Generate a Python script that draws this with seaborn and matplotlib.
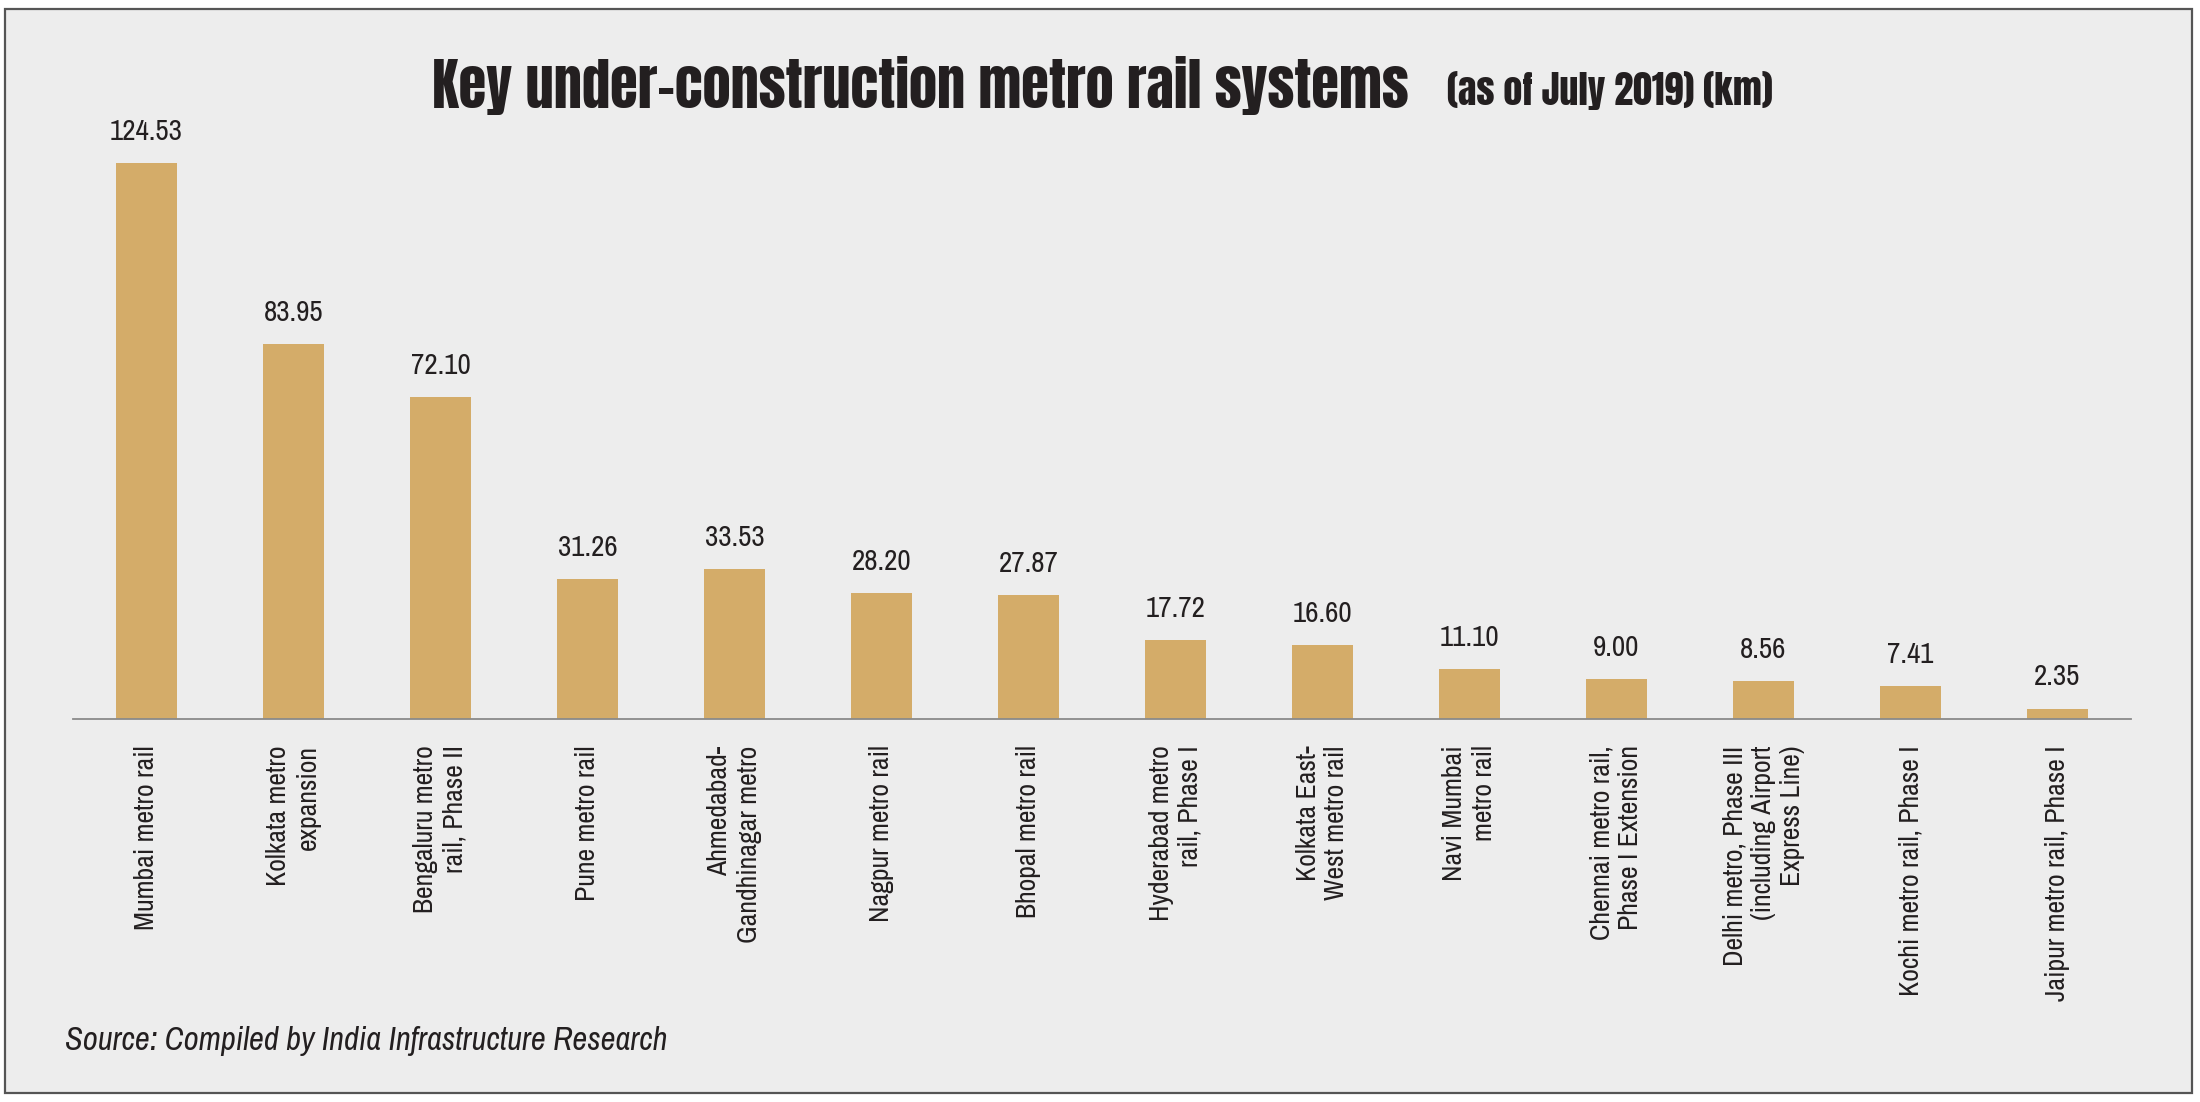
import matplotlib
matplotlib.use("Agg")
import matplotlib.pyplot as plt
import pandas as pd
import seaborn as sns
from matplotlib.patches import Rectangle

# Data (km, as of July 2019)
systems = [
    "Mumbai metro rail",
    "Kolkata metro\nexpansion",
    "Bengaluru metro\nrail, Phase II",
    "Pune metro rail",
    "Ahmedabad-\nGandhinagar metro",
    "Nagpur metro rail",
    "Bhopal metro rail",
    "Hyderabad metro\nrail, Phase I",
    "Kolkata East-\nWest metro rail",
    "Navi Mumbai\nmetro rail",
    "Chennai metro rail,\nPhase I Extension",
    "Delhi metro, Phase III\n(including Airport\nExpress Line)",
    "Kochi metro rail, Phase I",
    "Jaipur metro rail, Phase I",
]
length_km = [124.53, 83.95, 72.10, 31.26, 33.53, 28.20, 27.87,
             17.72, 16.60, 11.10, 9.00, 8.56, 7.41, 2.35]

title = "Key under-construction metro rail systems"
subtitle = "(as of July 2019) (km)"
source = "Source: Compiled by India Infrastructure Research"

df = pd.DataFrame({"system": systems, "km": length_km})

sns.set_style("white")
plt.rcParams["font.family"] = ["Archivo Narrow", "DejaVu Sans"]
heading_font = ["Anton", "DejaVu Sans"]

W, H = 2200, 1102
bg = "#EDEDED"
bar_color = "#D4AC69"
text_color = "#231F20"

fig = plt.figure(figsize=(W / 100, H / 100), dpi=100, facecolor="white")

# grey panel with a dark frame, behind everything
fig.patches.append(Rectangle((5 / W, 9 / H), (2192 - 5) / W, (1093 - 9) / H,
                             transform=fig.transFigure, facecolor=bg,
                             edgecolor="#555555", linewidth=1.6, zorder=-10))

ax_left, ax_right, ax_base = 73, 2131, 719
ymax = 140
px_per_km = 4.465
ax = fig.add_axes([ax_left / W, 1 - ax_base / H, (ax_right - ax_left) / W,
                   ymax * px_per_km / H])
ax.set_facecolor("none")

sns.barplot(data=df, x="system", y="km", color=bar_color, saturation=1,
            width=0.41, linewidth=0, ax=ax)

ax.set_xlim(-0.5, len(systems) - 0.5)
ax.set_ylim(0, ymax)
ax.set_xlabel("")
ax.set_ylabel("")
ax.set_yticks([])

for side in ["top", "left", "right"]:
    ax.spines[side].set_visible(False)
ax.spines["bottom"].set_color("#8A8A8A")
ax.spines["bottom"].set_linewidth(1.3)

# value labels above bars
for cont in ax.containers:
    ax.bar_label(cont, fmt="%.2f", padding=13, fontsize=21, color=text_color)

# category labels, rotated, lines right aligned
ax.tick_params(axis="x", which="major", length=0, pad=19)
ax.set_xticks(range(len(systems)))
ax.set_xticklabels(systems, rotation=90, fontsize=20, color=text_color,
                   ha="center", va="top")
for lab in ax.get_xticklabels():
    lab.set_multialignment("right")

# separator ticks between categories
ax.set_xticks([i + 0.5 for i in range(len(systems) - 1)], minor=True)
ax.tick_params(axis="x", which="minor", length=5.8, width=1.1,
               color="#8A8A8A", direction="out")

t1 = fig.text(432 / W, 1 - 108 / H, title, fontsize=42, family=heading_font,
              color=text_color, ha="left", va="baseline")
t2 = fig.text(1447 / W, 1 - 105 / H, subtitle, fontsize=22, family=heading_font,
              color=text_color, ha="left", va="baseline")
t3 = fig.text(65 / W, 1 - 1050 / H, source, fontsize=23.5, fontstyle="italic",
              color=text_color, ha="left", va="baseline")

# size the headline texts to the widths they take in the reference
renderer = fig.canvas.get_renderer()
for t, target in [(t1, 1410 - 432), (t2, 1772 - 1447), (t3, 669 - 65)]:
    w = t.get_window_extent(renderer).width
    t.set_fontsize(t.get_fontsize() * target / w)

fig.savefig("out.png", dpi=100, facecolor="white")
